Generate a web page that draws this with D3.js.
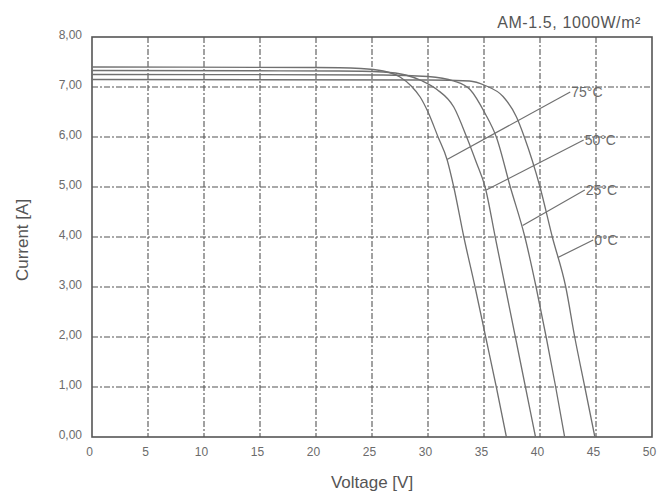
<!DOCTYPE html>
<html>
<head>
<meta charset="utf-8">
<script src="https://cdn.jsdelivr.net/npm/d3@7"></script>
<style>
  html, body { margin: 0; padding: 0; background: #fff; }
  svg { display: block; }
  text { font-family: "Liberation Sans", Arial, sans-serif; }
</style>
</head>
<body>
<svg id="chart" width="657" height="494"></svg>
<script>
// ---- data ----
const xTicks = [0, 5, 10, 15, 20, 25, 30, 35, 40, 45, 50];
const yTicks = [0, 1, 2, 3, 4, 5, 6, 7, 8];
const yTickLabels = ["0,00", "1,00", "2,00", "3,00", "4,00", "5,00", "6,00", "7,00", "8,00"];
const seriesNames = ["75°C", "50°C", "25°C", "0°C"];

const curve75 = [[0,7.40],[20,7.39],[24,7.37],[26,7.32],[27.5,7.20],[28.5,7.02],[29.3,6.80],[30,6.50],[30.9,6.00],[31.7,5.55],[32.3,5.00],[33.2,4.00],[34.2,3.00],[35.15,2.00],[36.1,1.00],[37.0,0]];
const curve50 = [[0,7.33],[22,7.32],[26,7.30],[28,7.24],[29.5,7.12],[30.8,6.95],[32.3,6.60],[33.45,6.00],[34.3,5.50],[35.1,5.00],[36.0,4.00],[36.9,3.00],[37.8,2.00],[38.7,1.00],[39.6,0]];
const curve25 = [[0,7.25],[26,7.24],[30,7.21],[32.3,7.12],[33.75,6.95],[35.1,6.47],[36.1,6.00],[37.35,5.00],[38.65,4.00],[39.65,3.00],[40.55,2.00],[41.4,1.00],[42.2,0]];
const curve0  = [[0,7.15],[30,7.14],[33.7,7.12],[35.1,7.03],[36.7,6.81],[37.9,6.40],[38.6,6.00],[40.0,5.00],[41.1,4.00],[42.3,3.00],[43.1,2.00],[44.0,1.00],[44.9,0]];
const curves = [curve75, curve50, curve25, curve0];

// leader lines: [point on curve, label anchor] in data units
const leaderFrom = [[31.7,5.55],[35.2,4.94],[38.45,4.23],[41.6,3.59]];
const leaderTo   = [[42.7,6.90],[43.9,5.94],[44.0,4.94],[44.75,3.94]];

const condition = "AM-1.5, 1000W/m²";
const xTitle = "Voltage [V]";
const yTitle = "Current [A]";

// ---- layout ----
const svg = d3.select("#chart");
const L = 92, R = 652, T = 37, B = 437;
const x = d3.scaleLinear().domain([0, 50]).range([L, R]);
const y = d3.scaleLinear().domain([0, 8]).range([B, T]);

const gridColor = "#555";
const textColor = "#6b6b6b";

// grid
const g = svg.append("g");
g.selectAll(".vg").data(xTicks.filter(d => d > 0 && d < 50)).enter().append("line")
  .attr("x1", d => x(d)).attr("x2", d => x(d)).attr("y1", T).attr("y2", B)
  .attr("stroke", gridColor).attr("stroke-width", 1.1).attr("stroke-dasharray", "6,2,2,2");
g.selectAll(".hg").data(yTicks.filter(d => d > 0 && d < 8)).enter().append("line")
  .attr("x1", L).attr("x2", R).attr("y1", d => y(d)).attr("y2", d => y(d))
  .attr("stroke", gridColor).attr("stroke-width", 1.1).attr("stroke-dasharray", "6,2,2,2");

// frame
svg.append("rect").attr("x", L).attr("y", T).attr("width", R - L).attr("height", B - T)
  .attr("fill", "none").attr("stroke", "#555").attr("stroke-width", 1.6);

// axes tick labels
const xAxis = d3.axisBottom(x).tickValues(xTicks).tickSize(0).tickPadding(10).tickFormat(d3.format("d"));
const xg = svg.append("g").attr("transform", `translate(-3,${B})`).call(xAxis);
xg.select(".domain").remove();
xg.selectAll("text").attr("fill", textColor).style("font-size", "12px");

const yAxis = d3.axisLeft(y).tickValues(yTicks).tickSize(0).tickPadding(10)
  .tickFormat((d, i) => yTickLabels[i]);
const yg = svg.append("g").attr("transform", `translate(${L},-2)`).call(yAxis);
yg.select(".domain").remove();
yg.selectAll("text").attr("fill", textColor).style("font-size", "12px");

// curves
const line = d3.line().x(d => x(d[0])).y(d => y(d[1])).curve(d3.curveMonotoneX);
svg.selectAll(".iv").data(curves).enter().append("path")
  .attr("d", line).attr("fill", "none").attr("stroke", "#707070").attr("stroke-width", 1.3);

// leaders + labels
seriesNames.forEach((name, i) => {
  svg.append("line")
    .attr("x1", x(leaderFrom[i][0])).attr("y1", y(leaderFrom[i][1]))
    .attr("x2", x(leaderTo[i][0])).attr("y2", y(leaderTo[i][1]))
    .attr("stroke", "#707070").attr("stroke-width", 1.2);
  svg.append("text")
    .attr("x", x(leaderTo[i][0]) + 1).attr("y", y(leaderTo[i][1]) + 5)
    .attr("fill", textColor).style("font-size", "14px").text(name);
});

// titles
svg.append("text").attr("x", 641).attr("y", 28).attr("text-anchor", "end")
  .attr("fill", "#555").style("font-size", "16px").style("letter-spacing", "0.6px").text(condition);
svg.append("text").attr("x", 372).attr("y", 488).attr("text-anchor", "middle")
  .attr("fill", "#555").style("font-size", "17px").text(xTitle);
svg.append("text").attr("transform", "translate(28,240) rotate(-90)").attr("text-anchor", "middle")
  .attr("fill", "#555").style("font-size", "17px").text(yTitle);
</script>
</body>
</html>
